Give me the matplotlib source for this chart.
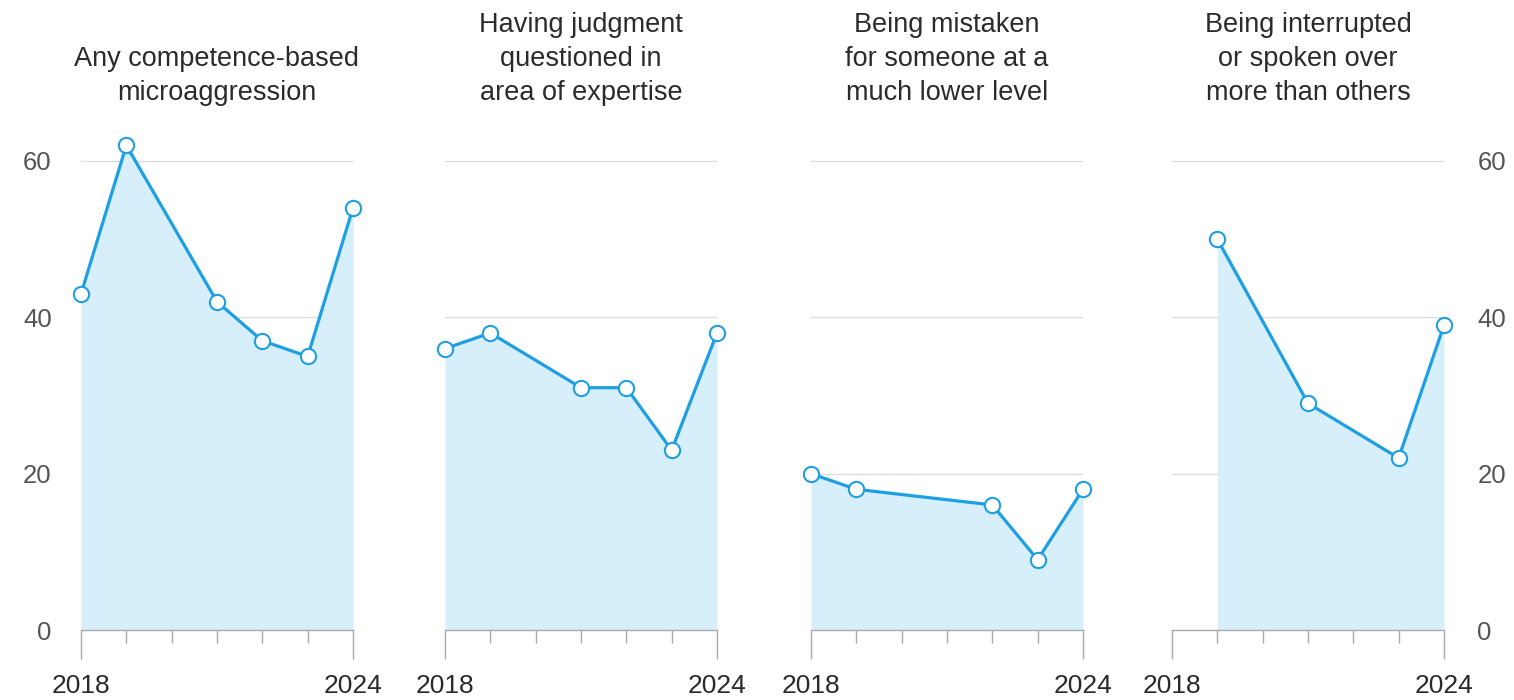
import matplotlib.pyplot as plt
from matplotlib.ticker import FixedLocator

plt.rcParams["font.family"] = ["Liberation Sans", "DejaVu Sans"]

TITLES = [
    "Any competence-based\nmicroaggression",
    "Having judgment\nquestioned in\narea of expertise",
    "Being mistaken\nfor someone at a\nmuch lower level",
    "Being interrupted\nor spoken over\nmore than others",
]
YEARS_1 = [2018, 2019, 2021, 2022, 2023, 2024]
VALUES_1 = [43, 62, 42, 37, 35, 54]
YEARS_2 = [2018, 2019, 2021, 2022, 2023, 2024]
VALUES_2 = [36, 38, 31, 31, 23, 38]
YEARS_3 = [2018, 2019, 2022, 2023, 2024]
VALUES_3 = [20, 18, 16, 9, 18]
YEARS_4 = [2019, 2021, 2023, 2024]
VALUES_4 = [50, 29, 22, 39]
Y_TICKS = [0, 20, 40, 60]

LINE = "#1f9fe3"
FILL = "#d7effb"
GRID = "#dddddd"
AXIS = "#aaaaaa"
TEXT = "#2b2b2b"
TICKTXT = "#555555"

fig = plt.figure(figsize=(15.14, 7.0), dpi=100)
W, H = 1514, 700
lefts = [81, 445, 811, 1172]
pw = 272
y0_px, per_unit = 630, (630 - 161) / 60
ymax = 66
bottom = (H - y0_px) / H
height = ymax * per_unit / H

series = [(YEARS_1, VALUES_1), (YEARS_2, VALUES_2), (YEARS_3, VALUES_3), (YEARS_4, VALUES_4)]

for i, ((xs, ys), title) in enumerate(zip(series, TITLES)):
    ax = fig.add_axes([lefts[i] / W, bottom, pw / W, height])
    ax.set_xlim(2018, 2024)
    ax.set_ylim(0, ymax)
    for s in ["top", "right", "left"]:
        ax.spines[s].set_visible(False)
    ax.spines["bottom"].set_color(AXIS)
    ax.spines["bottom"].set_linewidth(1.0)
    for g in Y_TICKS[1:]:
        ax.axhline(g, color=GRID, lw=1.0, zorder=0)
    ax.fill_between(xs, ys, 0, color=FILL, lw=0, zorder=1)
    ax.plot(xs, ys, color=LINE, lw=2.3, marker="o", ms=11, mfc="white",
            mec=LINE, mew=1.5, zorder=3, clip_on=False)

    ax.xaxis.set_major_locator(FixedLocator([2018, 2024]))
    ax.xaxis.set_minor_locator(FixedLocator([2019, 2020, 2021, 2022, 2023]))
    ax.set_xticklabels(["2018", "2024"])
    ax.tick_params(axis="x", which="major", length=21, width=1.0, color=AXIS,
                   labelsize=19, labelcolor=TEXT, pad=10.5)
    ax.tick_params(axis="x", which="minor", length=9, width=1.0, color=AXIS)

    if i == 0:
        ax.set_yticks(Y_TICKS)
        ax.tick_params(axis="y", length=0, labelsize=18.5, labelcolor=TICKTXT, pad=21)
    elif i == 3:
        ax.yaxis.tick_right()
        ax.set_yticks(Y_TICKS)
        ax.tick_params(axis="y", length=0, labelsize=18.5, labelcolor=TICKTXT, pad=24)
    else:
        ax.set_yticks([])

    ax.text(0.5, (y0_px - 106) / (ymax * per_unit), title, transform=ax.transAxes,
            ha="center", va="bottom", fontsize=19.5, color=TEXT, linespacing=1.4)

fig.savefig("out.png", dpi=100, facecolor="white")
